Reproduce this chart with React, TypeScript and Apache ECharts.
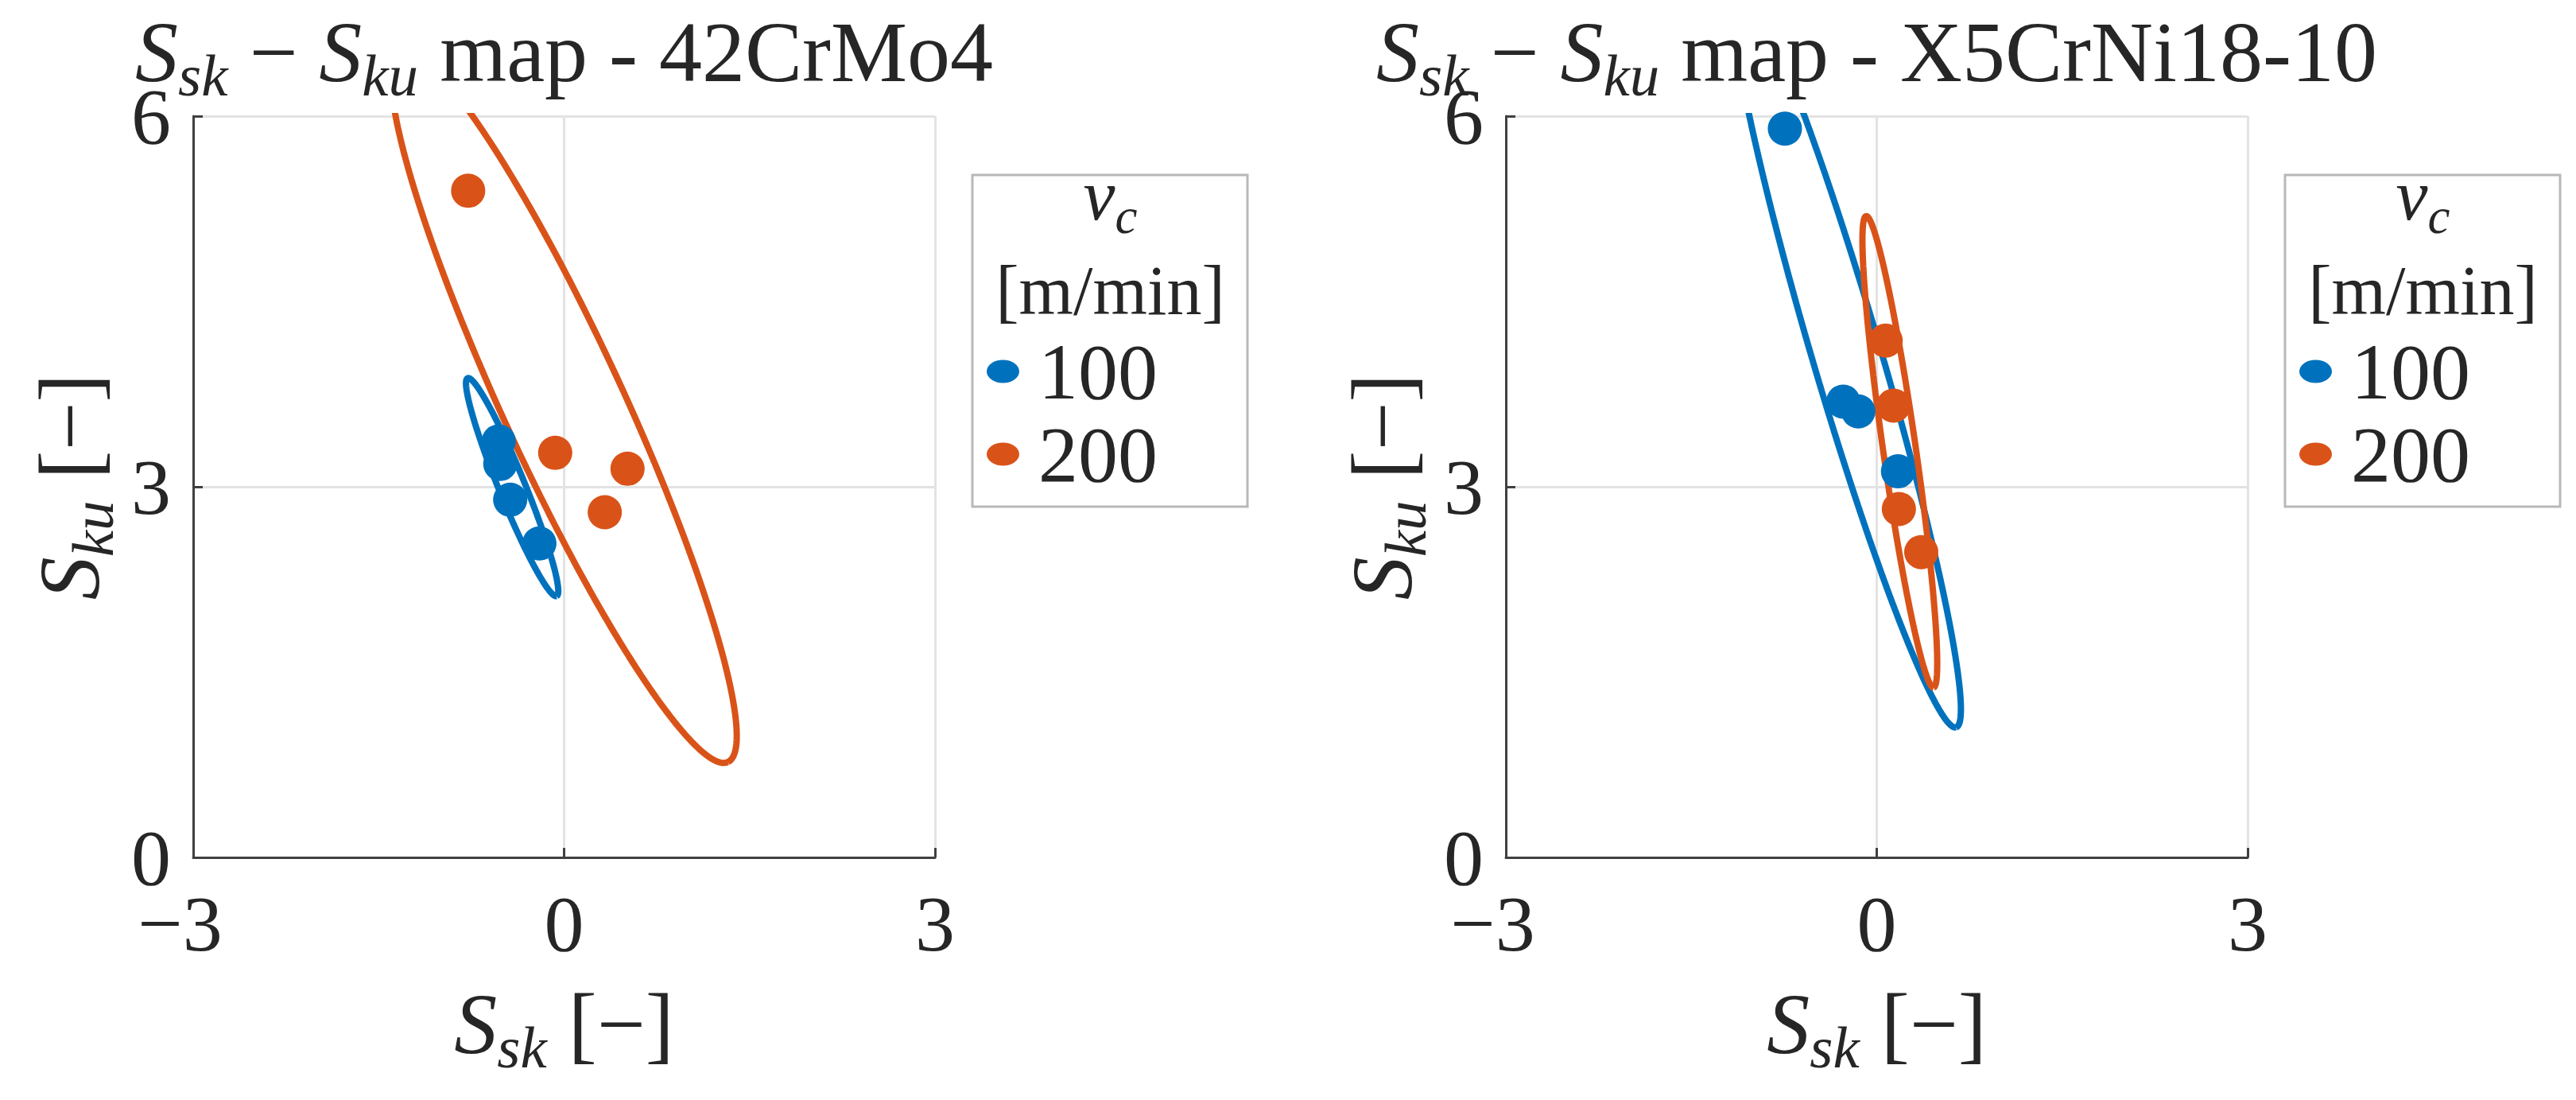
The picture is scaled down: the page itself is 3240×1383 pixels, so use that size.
import React, { useEffect, useRef } from "react";
import * as echarts from "echarts";

// ---- data ----
const titles = ["42CrMo4", "X5CrNi18-10"];
const legendNames = ["100", "200"];
const xTicks = [-3, 0, 3];
const yTicks = [0, 3, 6];

// 42CrMo4
const sskA100 = [-0.529, -0.516, -0.436, -0.2];
const skuA100 = [3.367, 3.185, 2.895, 2.541];
const sskA200 = [-0.776, -0.072, 0.513, 0.329];
const skuA200 = [5.396, 3.275, 3.146, 2.794];
// X5CrNi18-10
const sskB100 = [-0.743, -0.271, -0.149, 0.172];
const skuB100 = [5.899, 3.689, 3.61, 3.125];
const sskB200 = [0.072, 0.136, 0.179, 0.36];
const skuB200 = [4.183, 3.657, 2.82, 2.471];

const BLUE = "#0072BD";
const ORANGE = "#D95319";
const FONT = "'Liberation Serif', 'Times New Roman', serif";
const TXT = "#262626";
const CHI2_95 = 5.991;

// 95 % confidence ellipse computed from the points' covariance
function confEllipse(xs: number[], ys: number[]) {
  const n = xs.length;
  const mx = xs.reduce((a, b) => a + b, 0) / n;
  const my = ys.reduce((a, b) => a + b, 0) / n;
  let sxx = 0, syy = 0, sxy = 0;
  for (let i = 0; i < n; i++) {
    sxx += (xs[i] - mx) ** 2;
    syy += (ys[i] - my) ** 2;
    sxy += (xs[i] - mx) * (ys[i] - my);
  }
  sxx /= n - 1; syy /= n - 1; sxy /= n - 1;
  const tr = sxx + syy;
  const det = sxx * syy - sxy * sxy;
  const d = Math.sqrt(Math.max(tr * tr / 4 - det, 0));
  const l1 = tr / 2 + d, l2 = Math.max(tr / 2 - d, 0);
  const th = 0.5 * Math.atan2(2 * sxy, sxx - syy);
  const r1 = Math.sqrt(CHI2_95 * l1), r2 = Math.sqrt(CHI2_95 * l2);
  const pts: number[][] = [];
  const N = 240;
  for (let i = 0; i <= N; i++) {
    const t = (2 * Math.PI * i) / N;
    const c = Math.cos(t), s = Math.sin(t);
    pts.push([
      mx + r1 * c * Math.cos(th) - r2 * s * Math.sin(th),
      my + r1 * c * Math.sin(th) + r2 * s * Math.cos(th),
    ]);
  }
  return pts;
}

const zip = (a: number[], b: number[]) => a.map((v, i) => [v, b[i]]);

const BIG = 108;
const SUB = 75;
const SUBPAD = 46;
const richLabel = {
  i: { fontFamily: FONT, fontStyle: "italic", fontWeight: "normal", fontSize: BIG, lineHeight: BIG, verticalAlign: "top", color: TXT },
  sub: { fontFamily: FONT, fontStyle: "italic", fontWeight: "normal", fontSize: SUB, lineHeight: SUB, padding: [SUBPAD, 0, 0, 0], verticalAlign: "top", color: TXT },
  n: { fontFamily: FONT, fontStyle: "normal", fontWeight: "normal", fontSize: BIG, lineHeight: BIG, verticalAlign: "top", color: TXT },
};

const NB = "\u00a0";

const PANEL_OFF = 1651;
const GRID_L = 243, GRID_T = 146, GRID_W = 933, GRID_H = 932;
const LEG_L = 1223, LEG_T = 220;

function buildOption() {
  const panels = [
    { p100: zip(sskA100, skuA100), p200: zip(sskA200, skuA200), e100: confEllipse(sskA100, skuA100), e200: confEllipse(sskA200, skuA200) },
    { p100: zip(sskB100, skuB100), p200: zip(sskB200, skuB200), e100: confEllipse(sskB100, skuB100), e200: confEllipse(sskB200, skuB200) },
  ];
  const grid: any[] = [], xAxis: any[] = [], yAxis: any[] = [], series: any[] = [], title: any[] = [], legend: any[] = [], graphic: any[] = [];
  panels.forEach((p, k) => {
    const off = k * PANEL_OFF;
    grid.push({ left: GRID_L + off, top: GRID_T, width: GRID_W, height: GRID_H, containLabel: false });
    xAxis.push({
      gridIndex: k, type: "value", min: xTicks[0], max: xTicks[xTicks.length - 1], interval: 3,
      axisLine: { show: true, onZero: false, lineStyle: { color: "#404040", width: 3 } },
      axisTick: { show: true, inside: true, length: 12, lineStyle: { color: "#404040", width: 3 } },
      splitLine: { show: true, lineStyle: { color: "#e3e3e3", width: 3 } },
      axisLabel: {
        margin: 48, fontFamily: FONT, fontWeight: "normal", fontSize: 100, lineHeight: 70, color: TXT,
        formatter: (v: number) => (v < 0 ? `{neg|\u2212${Math.abs(v)}}` : `{pos|${v}}`),
        rich: {
          neg: { fontFamily: FONT, fontWeight: "normal", fontSize: 100, lineHeight: 70, color: TXT, padding: [0, 33, 0, 0] },
          pos: { fontFamily: FONT, fontWeight: "normal", fontSize: 100, lineHeight: 70, color: TXT },
        },
      },
      name: `{i|S}{sub|sk}{n|${NB}[\u2212]}`,
      nameLocation: "middle", nameGap: 155,
      nameTextStyle: { fontFamily: FONT, fontWeight: "normal", fontSize: BIG, color: TXT, rich: richLabel },
    });
    yAxis.push({
      gridIndex: k, type: "value", min: yTicks[0], max: yTicks[yTicks.length - 1], interval: 3,
      axisLine: { show: true, onZero: false, lineStyle: { color: "#404040", width: 3 } },
      axisTick: { show: true, inside: true, length: 12, lineStyle: { color: "#404040", width: 3 } },
      splitLine: { show: true, lineStyle: { color: "#e3e3e3", width: 3 } },
      axisLabel: { margin: 28, fontFamily: FONT, fontWeight: "normal", fontSize: 100, lineHeight: 70, color: TXT },
      name: `{i|S}{sub|ku}{n|${NB}[\u2212]}`,
      nameLocation: "middle", nameGap: 102,
      nameTextStyle: { fontFamily: FONT, fontWeight: "normal", fontSize: BIG, color: TXT, rich: richLabel },
    });
    series.push(
      { name: legendNames[0], type: "scatter", xAxisIndex: k, yAxisIndex: k, data: p.p100, symbol: "circle", symbolSize: 43, itemStyle: { color: BLUE, opacity: 1 }, z: 2 },
      { name: "ell" + legendNames[0], type: "line", xAxisIndex: k, yAxisIndex: k, data: p.e100, showSymbol: false, symbol: "none", smooth: false, clip: true, lineStyle: { color: BLUE, width: 8 }, z: 2 },
      { name: legendNames[1], type: "scatter", xAxisIndex: k, yAxisIndex: k, data: p.p200, symbol: "circle", symbolSize: 43, itemStyle: { color: ORANGE, opacity: 1 }, z: 2 },
      { name: "ell" + legendNames[1], type: "line", xAxisIndex: k, yAxisIndex: k, data: p.e200, showSymbol: false, symbol: "none", smooth: false, clip: true, lineStyle: { color: ORANGE, width: 8 }, z: 2 }
    );
    title.push({
      text: `{i|S}{sub|sk}{n|${NB}\u2212${NB}}{i|S}{sub|ku}{n|${NB}map - ${titles[k]}}`,
      left: GRID_L + off + GRID_W / 2, top: 11, textAlign: "center", padding: 0,
      textStyle: { fontFamily: FONT, fontWeight: "normal", fontSize: BIG, color: TXT, rich: richLabel },
    });
    legend.push({
      orient: "vertical", left: LEG_L + off, top: LEG_T,
      padding: [197, 113, 16, 18],
      itemGap: 4, itemWidth: 41, itemHeight: 29,
      borderColor: "#b8b8b8", borderWidth: 3, backgroundColor: "#ffffff",
      selectedMode: false,
      textStyle: { fontFamily: FONT, fontWeight: "normal", fontSize: 100, lineHeight: 100, color: TXT, padding: [0, 0, 0, 19] },
      data: [
        { name: legendNames[0], icon: "path://M0,14.5A20.5,14.5,0,1,1,41,14.5A20.5,14.5,0,1,1,0,14.5Z", itemStyle: { color: BLUE } },
        { name: legendNames[1], icon: "path://M0,14.5A20.5,14.5,0,1,1,41,14.5A20.5,14.5,0,1,1,0,14.5Z", itemStyle: { color: ORANGE } },
      ],
    });
    const cx = LEG_L + off + 173.5;
    graphic.push(
      {
        type: "text", x: cx, y: 200.6, z: 100,
        style: {
          text: "{v|v}{c|c}", align: "center", verticalAlign: "top", textAlign: "center", textVerticalAlign: "top",
          rich: {
            v: { font: `italic normal 90px ${FONT}`, fontFamily: FONT, fontStyle: "italic", fontSize: 90, lineHeight: 90, verticalAlign: "top", fill: TXT },
            c: { font: `italic normal 63px ${FONT}`, fontFamily: FONT, fontStyle: "italic", fontSize: 63, lineHeight: 63, padding: [40, 0, 0, 0], verticalAlign: "top", fill: TXT },
          },
        },
      },
      {
        type: "text", x: cx, y: 365.3, z: 100,
        style: {
          text: "[m/min]", font: `normal normal 88px ${FONT}`, fontFamily: FONT, fontSize: 88, fill: TXT,
          align: "center", verticalAlign: "middle", textAlign: "center", textVerticalAlign: "middle",
        },
      }
    );
  });
  return { animation: false, backgroundColor: "#ffffff", grid, xAxis, yAxis, series, title, legend, graphic };
}

export default function App() {
  const ref = useRef<HTMLDivElement>(null);
  useEffect(() => {
    if (!ref.current) return;
    const chart = echarts.init(ref.current, undefined, { renderer: "svg" });
    chart.setOption(buildOption() as any);
    return () => chart.dispose();
  }, []);
  return (
    <div
      ref={ref}
      style={{ position: "absolute", left: 0, top: 0, width: 3240, height: 1383, background: "#fff" }}
    />
  );
}
